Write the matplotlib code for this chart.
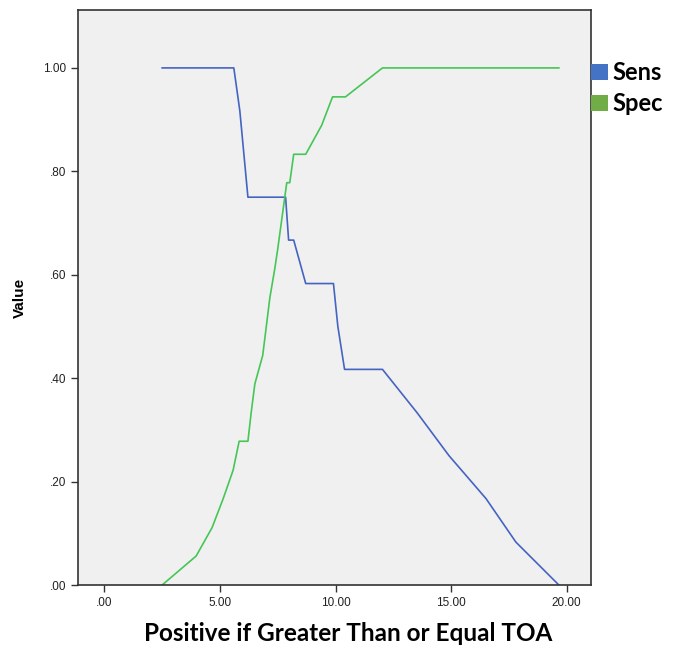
import numpy as np
import matplotlib
matplotlib.use('Agg')
import matplotlib.pyplot as plt
from matplotlib.patches import Patch

# cutoff values and the two curves
sens_x = [2.50, 5.60, 5.86, 6.21, 7.84, 7.97, 8.19, 8.71, 9.91, 10.10, 10.39, 12.03, 13.53, 14.91, 16.51, 17.80, 19.66]
sens_y = [1.000, 1.000, 0.917, 0.750, 0.750, 0.667, 0.667, 0.583, 0.583, 0.500, 0.417, 0.417, 0.333, 0.250, 0.167, 0.083, 0.000]

spec_x = [2.50, 3.97, 4.66, 5.14, 5.57, 5.83, 6.21, 6.35, 6.51, 6.85, 7.16, 7.37, 7.50, 7.89, 8.02, 8.19, 8.71, 9.40, 9.87, 10.43, 12.03, 19.66]
spec_y = [0.000, 0.056, 0.111, 0.167, 0.222, 0.278, 0.278, 0.333, 0.389, 0.444, 0.556, 0.611, 0.650, 0.778, 0.778, 0.833, 0.833, 0.889, 0.944, 0.944, 1.000, 1.000]

x_ticks = [0, 5, 10, 15, 20]
x_tick_labels = ['.00', '5.00', '10.00', '15.00', '20.00']
y_ticks = [0, 0.2, 0.4, 0.6, 0.8, 1.0]
y_tick_labels = ['.00', '.20', '.40', '.60', '.80', '1.00']

fig = plt.figure(figsize=(6.75, 6.46), dpi=100)
ax = fig.add_axes([78/675, 61/646, (591-78)/675, (585-10)/646])
ax.set_facecolor('#f0f0f0')

ax.plot(sens_x, sens_y, color='#4464c2', lw=1.2)
ax.plot(spec_x, spec_y, color='#45c656', lw=1.2)

ax.set_xlim(-1.14, 21.05)
ax.set_ylim(0, 1.112)
ax.set_xticks(x_ticks)
ax.set_xticklabels(x_tick_labels)
ax.set_yticks(y_ticks)
ax.set_yticklabels(y_tick_labels)
ax.tick_params(direction='out', length=5, width=1, color='#333333', labelsize=8.5, labelcolor='#222222')
for lab in ax.get_xticklabels() + ax.get_yticklabels():
    lab.set_family('Liberation Sans')
for sp in ax.spines.values():
    sp.set_color('#333333')
    sp.set_linewidth(1.2)

ax.set_ylabel('Value', family='Liberation Sans', fontweight='bold', fontsize=11, labelpad=12)
# x label placed directly so it sits just above the bottom edge
fig.text(348/675, 5/646, 'Positive if Greater Than or Equal TOA', family='Lato', fontweight='bold',
         fontsize=17.5, ha='center', va='baseline')

handles = [Patch(facecolor='#4472c4', edgecolor='none', label='Sens'),
           Patch(facecolor='#70ad47', edgecolor='none', label='Spec')]
fig.legend(handles=handles, loc='upper left', bbox_to_anchor=(591/675, 1 - 61/646),
           frameon=False, prop={'family': 'Lato', 'weight': 'bold', 'size': 17},
           handlelength=0.7, handleheight=0.65, handletextpad=0.2, labelspacing=0.35,
           borderaxespad=0, borderpad=0)

fig.savefig('out.png', dpi=100)
